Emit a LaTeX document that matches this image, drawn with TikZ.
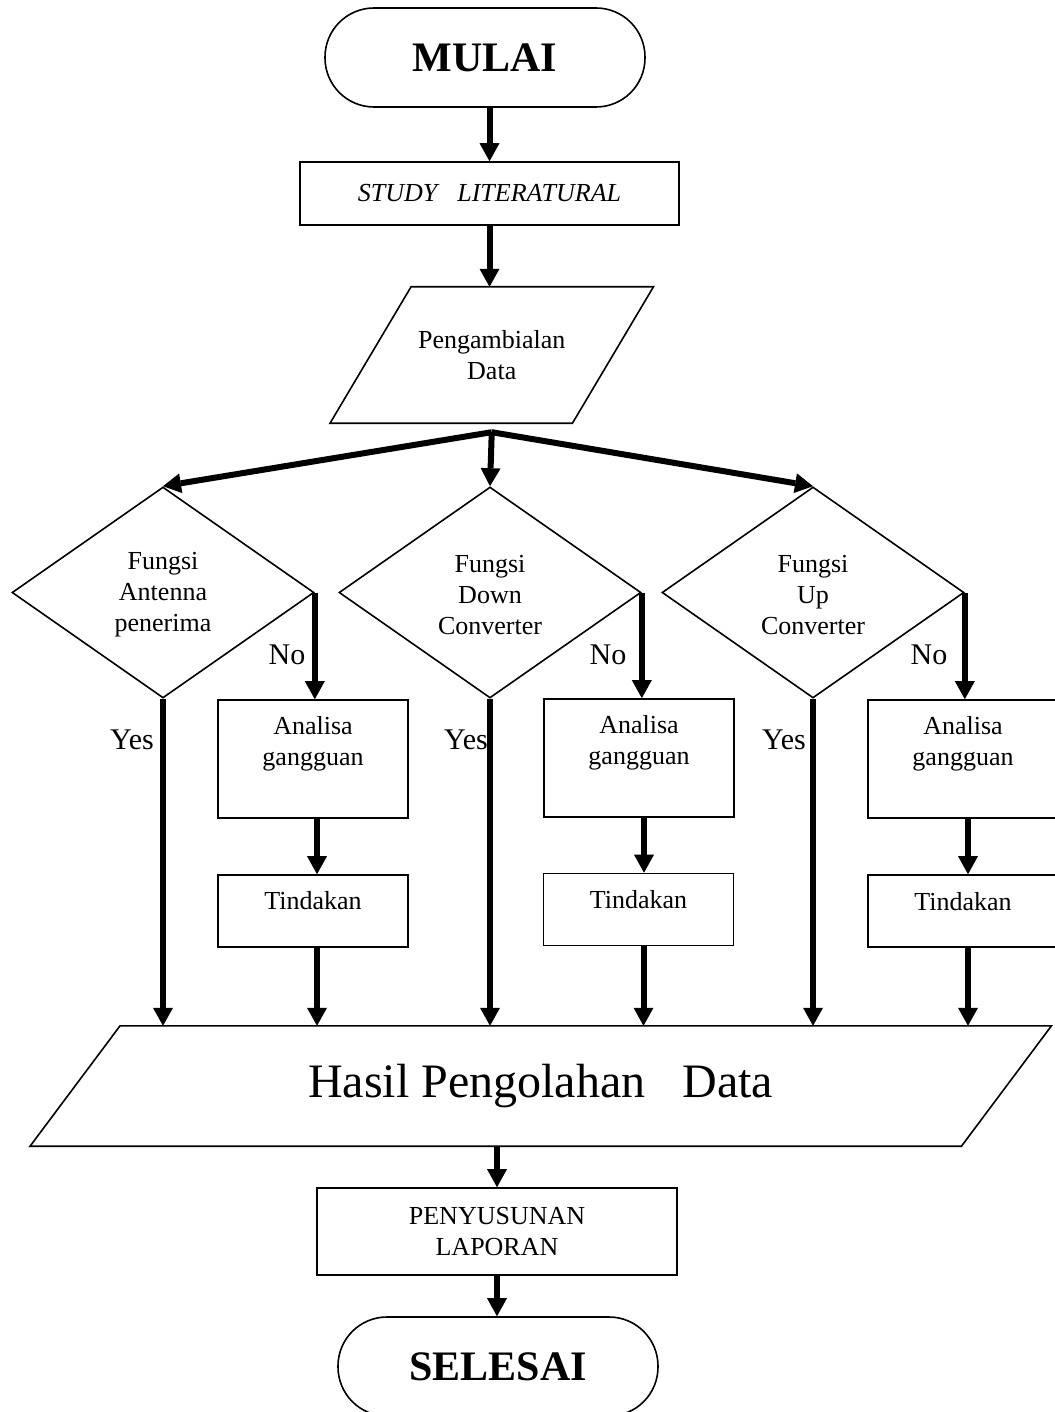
\documentclass[tikz,border=0pt]{standalone}
\usepackage{fontspec}
\setmainfont{Liberation Serif}
\usetikzlibrary{arrows.meta,shapes.geometric}
\begin{document}
\begin{tikzpicture}[x=1pt,y=-1pt,
  shp/.style={draw, line width=1.6pt},
  term/.style={shp, rectangle, rounded corners=49pt, minimum width=320pt, minimum height=99pt, inner sep=0pt, font=\fontsize{42}{48}\selectfont\bfseries},
  box/.style={shp, rectangle, inner sep=0pt},
  dia/.style={shp, diamond, minimum width=302pt, minimum height=211pt, inner sep=0pt},
  txt/.style={font=\fontsize{26}{31}\selectfont, align=center, inner sep=0pt},
  lbl/.style={font=\fontsize{30}{36}\selectfont, inner sep=0pt},
  flow/.style={line width=6pt, -{Triangle[length=18pt,width=20pt,line width=0pt]}}
]
\useasboundingbox (0,0) rectangle (1054,1412);

% start / study
\node[term] (mulai) at (485,57.5) {MULAI};
\node[box, minimum width=379pt, minimum height=63pt, font=\fontsize{26}{31}\selectfont\itshape] (study) at (489.5,193.5) {STUDY\hspace{20pt}LITERATURAL};

% data parallelogram
\node[txt, minimum width=242pt, minimum height=136pt] (pd) at (491.75,355) {Pengambialan\\Data};
\draw[shp] ([xshift=40.5pt]pd.north west) -- ([xshift=40.5pt]pd.north east) -- ([xshift=-40.5pt]pd.south east) -- ([xshift=-40.5pt]pd.south west) -- cycle;
\coordinate (split) at ([yshift=-9pt]pd.south);

% decisions
\node[dia] (d1) at (163,592.5) {};
\node[dia] (d2) at (490,592.5) {};
\node[dia] (d3) at (813,592.5) {};
\node[txt] (d1t) at (163,595) {Fungsi\\Antenna\\penerima};
\node[txt] (d2t) at (490,595) {Fungsi\\Down\\Converter};
\node[txt] (d3t) at (813,595) {Fungsi\\Up\\Converter};

% analysis boxes
\node[box, minimum width=190pt, minimum height=118pt] (a1) at (313,759) {};
\node[box, minimum width=190pt, minimum height=118pt] (a2) at (639,758) {};
\node[box, minimum width=190pt, minimum height=118pt] (a3) at (963,759) {};
\node[txt] (a1t) at (313,744) {Analisa\\gangguan};
\node[txt] (a2t) at (639,743) {Analisa\\gangguan};
\node[txt] (a3t) at (963,744) {Analisa\\gangguan};

% action boxes
\node[box, minimum width=190pt, minimum height=72pt] (t1) at (313,911) {};
\node[box, minimum width=190pt, minimum height=72pt] (t2) at (638.5,909.5) {};
\node[box, minimum width=190pt, minimum height=72pt] (t3) at (963,911) {};
\node[txt] (t1t) at (313,901) {Tindakan};
\node[txt] (t2t) at (638.5,900) {Tindakan};
\node[txt] (t3t) at (963,902) {Tindakan};

% result parallelogram
\node[inner sep=0pt, minimum width=931pt, minimum height=120pt, font=\fontsize{48}{56}\selectfont] (hasil) at (540.75,1086) {Hasil Pengolahan\hspace{37pt}Data};
\draw[shp] ([xshift=45pt]hasil.north west) -- ([xshift=45pt]hasil.north east) -- ([xshift=-45pt]hasil.south east) -- ([xshift=-45pt]hasil.south west) -- cycle;

% report / end
\node[box, txt, minimum width=360pt, minimum height=87pt] (lap) at (497,1231.5) {PENYUSUNAN\\LAPORAN};
\node[term] (selesai) at (498,1366.5) {SELESAI};

% connectors
\draw[flow] (study.north |- mulai.south) -- (study.north);
\draw[flow] (study.south) -- (study.south |- pd.north);
\draw[flow] (split) -- (d1.north);
\draw[flow] (split) -- (d2.north);
\draw[flow] (split) -- (d3.north);

\draw[flow] (d1.east) -- (d1.east |- a1.north);
\draw[flow] (d2.east) -- (d2.east |- a2.north);
\draw[flow] (d3.east) -- (d3.east |- a3.north);

\draw[flow] ([xshift=4pt]a1.south) -- ([xshift=4pt]a1.south |- t1.north);
\draw[flow] ([xshift=5pt]a2.south) -- ([xshift=5pt]a2.south |- t2.north);
\draw[flow] ([xshift=5pt]a3.south) -- ([xshift=5pt]a3.south |- t3.north);

\draw[flow] (d1.south) -- (d1.south |- hasil.north);
\draw[flow] (d2.south) -- (d2.south |- hasil.north);
\draw[flow] (d3.south) -- (d3.south |- hasil.north);

\draw[flow] ([xshift=4pt]t1.south) -- ([xshift=4pt]t1.south |- hasil.north);
\draw[flow] ([xshift=5pt]t2.south) -- ([xshift=5pt]t2.south |- hasil.north);
\draw[flow] ([xshift=5pt]t3.south) -- ([xshift=5pt]t3.south |- hasil.north);

\draw[flow] (lap.north |- hasil.south) -- (lap.north);
\draw[flow] (lap.south) -- (lap.south |- selesai.north);

% labels
\node[lbl] (no1) at (287,655) {No};
\node[lbl] (no2) at (608,655) {No};
\node[lbl] (no3) at (929,655) {No};
\node[lbl] (yes1) at (132,740) {Yes};
\node[lbl] (yes2) at (466,740) {Yes};
\node[lbl] (yes3) at (784,740) {Yes};
\end{tikzpicture}
\end{document}
